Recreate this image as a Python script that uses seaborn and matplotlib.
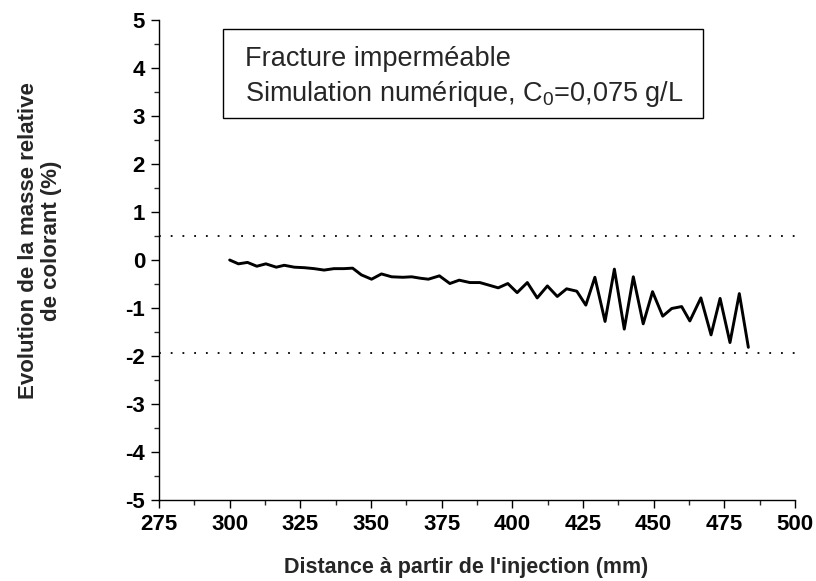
import matplotlib
matplotlib.use("Agg")
import matplotlib.pyplot as plt
from matplotlib.patches import Rectangle
from matplotlib.ticker import MultipleLocator
import numpy as np
import pandas as pd
import seaborn as sns

# Distance from the injection point (mm)
distance = [300.0, 303.1, 306.3, 309.6, 312.8, 316.5, 319.3, 322.9, 326.4, 329.9,
            333.4, 336.9, 340.4, 343.5, 346.6, 350.2, 353.7, 357.3, 361.3, 364.4,
            367.5, 370.3, 374.2, 377.9, 381.2, 385.0, 388.5, 391.5, 395.0, 398.4,
            401.7, 405.3, 408.8, 412.4, 415.9, 419.2, 422.8, 426.0, 429.2, 432.8,
            436.1, 439.6, 442.8, 446.3, 449.6, 453.2, 456.4, 459.9, 462.8, 466.7,
            470.3, 473.5, 477.0, 480.3, 483.5]

# Relative change of dye mass (%)
evolution = [0.00, -0.08, -0.05, -0.13, -0.08, -0.15, -0.11, -0.15, -0.16, -0.18,
             -0.21, -0.18, -0.18, -0.17, -0.31, -0.40, -0.29, -0.35, -0.36, -0.35,
             -0.38, -0.40, -0.33, -0.49, -0.42, -0.47, -0.47, -0.52, -0.58, -0.49,
             -0.68, -0.47, -0.79, -0.54, -0.76, -0.60, -0.65, -0.94, -0.36, -1.28,
             -0.19, -1.44, -0.35, -1.33, -0.66, -1.17, -1.01, -0.97, -1.27, -0.79,
             -1.56, -0.80, -1.72, -0.70, -1.82]

# Dotted reference bounds
bounds = [0.5, -1.93]

x_ticks = [275, 300, 325, 350, 375, 400, 425, 450, 475, 500]
y_ticks = [-5, -4, -3, -2, -1, 0, 1, 2, 3, 4, 5]

sns.set_style("ticks")
plt.rcParams["font.family"] = ["Liberation Sans", "DejaVu Sans"]
plt.rcParams["mathtext.fontset"] = "custom"
plt.rcParams["mathtext.rm"] = "Liberation Sans"
plt.rcParams["mathtext.it"] = "Liberation Sans:italic"
plt.rcParams["axes.unicode_minus"] = False

df = pd.DataFrame({"distance": distance, "evolution": evolution})

fig = plt.figure(figsize=(8.16, 5.81), dpi=100)
ax = fig.add_axes([159 / 816, 81 / 581, 636 / 816, 480 / 581])

sns.lineplot(data=df, x="distance", y="evolution", sort=False, color="black",
             linewidth=2.1, ax=ax)

for b in bounds:
    ax.axhline(b, color="black", linewidth=1.3, linestyle=(0, (1, 5.5)))

ax.set_xlim(275, 500)
ax.set_ylim(-5, 5)
ax.set_xticks(x_ticks)
ax.set_yticks(y_ticks)
ax.xaxis.set_minor_locator(MultipleLocator(12.5))
ax.yaxis.set_minor_locator(MultipleLocator(0.5))
ax.tick_params(which="major", direction="out", length=6, width=1.0,
               labelsize=16, pad=4, colors="black")
ax.tick_params(which="minor", direction="out", length=3.5, width=1.0)
for lab in ax.get_xticklabels() + ax.get_yticklabels():
    lab.set_fontweight("bold")

for side in ("top", "right"):
    ax.spines[side].set_visible(False)
for side in ("left", "bottom"):
    ax.spines[side].set_linewidth(1.0)
    ax.spines[side].set_color("black")

ax.set_xlabel("Distance à partir de l'injection (mm)", fontsize=15.5,
              fontweight="bold")
ax.set_ylabel("Evolution de la masse relative\nde colorant (%)", fontsize=16,
              fontweight="bold", linespacing=1.15)
ax.xaxis.set_label_coords(0.483, -0.118)
ax.yaxis.set_label_coords(-0.1525, 0.54)

# Annotation box
ax.add_patch(Rectangle((0.1006, 0.796), 0.7547, 0.185, transform=ax.transAxes,
                       facecolor="white", edgecolor="black", linewidth=1.0,
                       zorder=5))
ax.text(0.135, 0.904, "Fracture imperméable", transform=ax.transAxes,
        fontsize=19.5, va="baseline", ha="left", zorder=6)
ax.text(0.135, 0.831, "Simulation numérique, C$_0$=0,075 g/L",
        transform=ax.transAxes, fontsize=19.5, va="baseline", ha="left", zorder=6)

fig.savefig("out.png", dpi=100)
